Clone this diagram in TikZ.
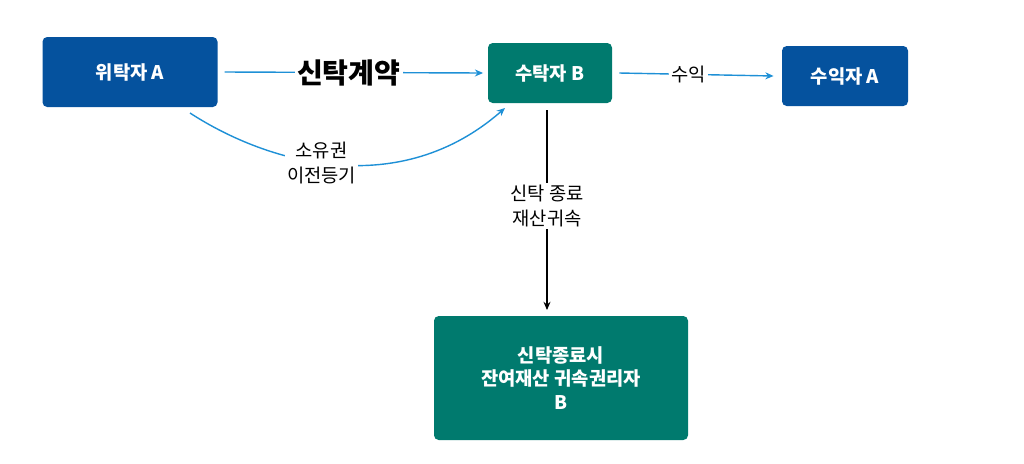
\documentclass[tikz,border=0pt]{standalone}
\usepackage{fontspec}
\setmainfont{Noto Sans CJK KR}
\usetikzlibrary{arrows.meta}
\definecolor{boxblue}{RGB}{5,82,158}
\definecolor{boxteal}{RGB}{0,122,110}
\definecolor{lineblue}{RGB}{30,144,214}
\begin{document}
\begin{tikzpicture}[x=0.03cm,y=-0.03cm]
    \tikzset{
    trust box/.style={rounded corners=4pt,text=white,font=\fontsize{16}{20}\selectfont\bfseries,align=center,inner sep=0},
    trust label/.style={fill=white,text=black,font=\fontsize{16}{21}\selectfont,align=center,inner sep=2pt},
    trust edge/.style={lineblue,line width=1.2pt,-{Stealth[length=7pt,width=6pt]}}
    }
    \useasboundingbox (0,0) rectangle (1024,463);
    \node[trust box,fill=boxblue,minimum width=175*0.03cm,minimum height=70*0.03cm] (trustor) at (130,72) {위탁자 A};
    \node[trust box,fill=boxteal,minimum width=124*0.03cm,minimum height=60*0.03cm] (trustee) at (550,73) {수탁자 B};
    \node[trust box,fill=boxblue,minimum width=126*0.03cm,minimum height=60*0.03cm] (benef) at (845,76) {수익자 A};
    \node[trust box,fill=boxteal,minimum width=254*0.03cm,minimum height=124*0.03cm] (residual) at (561,378) {신탁종료시\\잔여재산 귀속권리자\\B};

    \coordinate (curveS) at (190,113);
    \coordinate (curveE) at (505,108);
    \coordinate (downS) at (547,110);
    \coordinate (downE) at (547,310);

    \draw[trust edge] (trustor.east) ++(7,0) coordinate (contractS) -- ([xshift=-4]trustee.west)
        node[trust label,font=\fontsize{24}{28}\selectfont\bfseries,pos=0.48] {신탁계약};
    \draw[trust edge] ([xshift=6]trustee.east) -- ([xshift=-7]benef.west)
        node[trust label,pos=0.45] {수익};
    \draw[trust edge] (curveS) .. controls (270,165) and (400,200) .. (curveE)
        node[trust label,pos=0.45] {소유권\\이전등기};
    \draw[black,line width=1pt,-{Stealth[length=7pt,width=6pt]}] (downS) -- (downE)
        node[trust label,pos=0.48] {신탁 종료\\재산귀속};
\end{tikzpicture}
\end{document}
